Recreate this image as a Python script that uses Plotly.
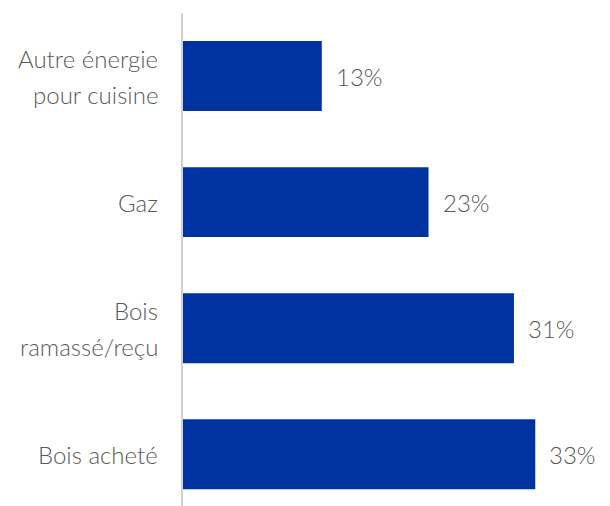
import plotly.graph_objects as go

categories = ["Autre énergie<br>pour cuisine", "Gaz", "Bois<br>ramassé/reçu", "Bois acheté"]
shares = [13, 23, 31, 33]

bar_color = "#0033A0"
text_color = "#595959"
font_family = "Lato"
label_font = dict(family=font_family, size=24, color=text_color, weight=300)

fig = go.Figure()
fig.add_trace(go.Bar(
    x=shares,
    y=categories,
    orientation="h",
    marker=dict(color=bar_color, line=dict(width=0)),
    width=0.555,
))

# value labels right of each bar
for cat, val in zip(categories, shares):
    fig.add_annotation(
        x=val, y=cat, text=f"{val}%",
        xanchor="left", yanchor="middle", xshift=12, showarrow=False,
        font=dict(label_font, size=24),
    )

# category labels, one annotation per line to get the wider line spacing
for cat in categories:
    lines = cat.split("<br>")
    n = len(lines)
    for i, line in enumerate(lines):
        fig.add_annotation(
            x=0, y=cat, text=line, xref="x", yref="y",
            xanchor="right", yanchor="middle", xshift=-23,
            yshift=(n - 1) / 2 * 36 - i * 36,
            showarrow=False, font=label_font,
        )

# page body has an 8px margin, so the figure is a bit smaller than the window
fig.update_layout(
    width=602, height=498,
    margin=dict(l=175, r=0, t=5, b=0),
    plot_bgcolor="white", paper_bgcolor="white",
    showlegend=False,
    font=label_font,
)
fig.update_xaxes(range=[0, 40], visible=False, automargin=False)
fig.update_yaxes(
    range=[3.41, -0.5], automargin=False,
    showline=True, linecolor="#d0d0d0", linewidth=2,
    ticks="", showgrid=False, showticklabels=False,
)

fig.write_html("out.html")
